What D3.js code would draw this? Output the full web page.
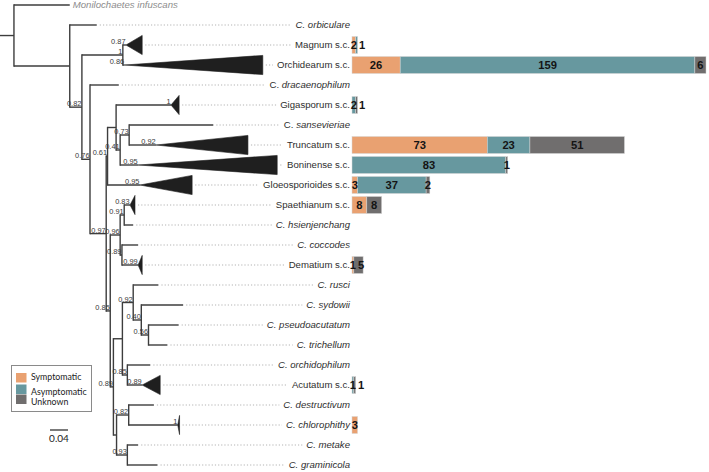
<!DOCTYPE html>
<html><head><meta charset="utf-8">
<script src="https://cdn.jsdelivr.net/npm/d3@7"></script>
<style>body{margin:0;background:#fff}svg{display:block}</style>
</head><body>
<svg id="c" width="709" height="472"></svg>
<script>
// ---------------- DATA ----------------
// Tree topology with branch lengths (substitutions/site) and support values
const newick = "(Monilochaetes:0.124,(orbiculare:0.060,((Magnum:0.007,Orchidearum:0.004)1:0.091,(dracaenophilum:0.064,(((Gigasporum:0.122,((sansevieriae:0.187,Truncatum:0.060)0.73:0.020,Boninense:0.040)0.41:0.009):0.019,Gloeosporioides:0.072)0.61:0.003,(((Spaethianum:0.013,hsienjenchang:0.020)0.91:0.009,(coccodes:0.036,Dematium:0.036)0.89:0.004)0.96:0.022,(((rusci:0.056,(sydowii:0.093,(pseudoacutatum:0.067,trichellum:0.042)0.56:0.016)0.40:0.018)0.92:0.024,(orchidophilum:0.051,Acutatum:0.033)0.85:0.011):0.020,((destructivum:0.056,chlorophithy:0.109)0.82:0.027,(metake:0.024,graminicola:0.067)0.93:0.024):0.007)0.89:0.007)0.85:0.009)0.97:0.036)0.76:0.018)0.82:0.027):0.124):0.031;";

const tipIds = ["Monilochaetes","orbiculare","Magnum","Orchidearum","dracaenophilum","Gigasporum","sansevieriae","Truncatum","Boninense","Gloeosporioides","Spaethianum","hsienjenchang","coccodes","Dematium","rusci","sydowii","pseudoacutatum","trichellum","orchidophilum","Acutatum","destructivum","chlorophithy","metake","graminicola"];
const tipLabels = ["Monilochaetes infuscans","C. orbiculare","Magnum s.c.","Orchidearum s.c.","C. dracaenophilum","Gigasporum s.c.","C. sansevieriae","Truncatum s.c.","Boninense s.c.","Gloeosporioides s.c.","Spaethianum s.c.","C. hsienjenchang","C. coccodes","Dematium s.c.","C. rusci","C. sydowii","C. pseudoacutatum","C. trichellum","C. orchidophilum","Acutatum s.c.","C. destructivum","C. chlorophithy","C. metake","C. graminicola"];
const uprightGenus = ["C. dracaenophilum","C. sansevieriae"];

// Collapsed clades: depth of the collapsed triangle and clade support
const collapsedClades = ["Magnum","Orchidearum","Gigasporum","Truncatum","Boninense","Gloeosporioides","Spaethianum","Dematium","Acutatum","chlorophithy"];
const cladeDepth = [0.036,0.307,0.018,0.204,0.309,0.116,0.011,0.009,0.040,0.004];
const cladeSupport = ["0.87","0.86","1","0.92","0.95","0.95","0.83","0.99","0.89","1"];

// Isolate counts per clade
const barCategories = ["Magnum","Orchidearum","Gigasporum","Truncatum","Boninense","Gloeosporioides","Spaethianum","Dematium","Acutatum","chlorophithy"];
const symptomatic  = [2, 26, 0, 73, 0, 3, 8, 1, 0, 3];
const asymptomatic = [1,159, 2, 23,83,37, 0, 0, 1, 0];
const unknown      = [0,  6, 1, 51, 1, 2, 8, 5, 1, 0];
const seriesNames  = ["Symptomatic","Asymptomatic","Unknown"];
const seriesColors = ["#E9A171","#67989F","#706E6E"];
const scaleBarValue = 0.04;

// ---------------- PARSE ----------------
function parseNewick(s){
  let i=0;
  function node(){
    const n={children:[]};
    if(s[i]==='('){ i++; n.children.push(node()); while(s[i]===','){ i++; n.children.push(node()); } i++; }
    let name=''; while(i<s.length && !',():;'.includes(s[i])) name+=s[i++];
    n.name=name;
    if(s[i]===':'){ i++; let l=''; while(i<s.length && !',();'.includes(s[i])) l+=s[i++]; n.length=+l; }
    return n;
  }
  return node();
}

const svg = d3.select("#c");
const xTree = d3.scaleLinear().domain([0,1]).range([0,450]);
const root = d3.hierarchy(parseNewick(newick), d => d.children.length ? d.children : null);
root.eachBefore(d => { d.dist = (d.parent ? d.parent.dist : 0) + (d.data.length||0); d.px = xTree(d.dist); });
const yRow = d3.scalePoint().domain(tipIds).range([5,465]);
root.eachAfter(d => { d.py = d.children ? (d.children[0].py + d.children[d.children.length-1].py)/2 : yRow(d.data.name); });

const gDot = svg.append("g").attr("stroke","#b3b3b3").attr("stroke-width",1.2).attr("stroke-dasharray","1.2,2");
const gTree = svg.append("g").attr("stroke","#3d3d3d").attr("stroke-width",1.4).attr("fill","none");
// root stub
gTree.append("line").attr("x1",xTree(0)).attr("x2",root.px).attr("y1",root.py).attr("y2",root.py);
root.descendants().forEach(d=>{
  if(d.parent){
    gTree.append("line").attr("x1",d.parent.px).attr("x2",d.px).attr("y1",d.py).attr("y2",d.py);
  }
  if(d.children){
    gTree.append("line").attr("x1",d.px).attr("x2",d.px)
      .attr("y1",d.children[0].py-0.7).attr("y2",d.children[d.children.length-1].py+0.7);
  }
});

// collapsed triangles
const halfH = 9.6;
const tipEnd = {};
root.leaves().forEach(d=>{
  const k = collapsedClades.indexOf(d.data.name);
  let end = d.px;
  if(k>=0){
    end = xTree(d.dist + cladeDepth[k]);
    svg.append("path").attr("d",`M${d.px},${d.py}L${end},${d.py-halfH}L${end},${d.py+halfH}Z`)
      .attr("fill","#1f1f1f").attr("stroke","#1f1f1f").attr("stroke-width",0.6);
  }
  tipEnd[d.data.name]=end;
});

// support labels
const gSup = svg.append("g").attr("font-family","Liberation Sans, Arial, sans-serif").attr("font-size",7.4).attr("fill","#3a3a3a").attr("text-anchor","end");
root.descendants().forEach(d=>{
  let lab = null;
  if(d.children && d.data.name!=='') lab = d.data.name;
  if(!d.children){ const k = collapsedClades.indexOf(d.data.name); if(k>=0) lab = cladeSupport[k]; }
  if(lab) gSup.append("text").attr("x",d.px-0.5).attr("y",d.py-1).text(lab);
});

// tip labels + dotted leaders
const labelRight = 350;
const gLab = svg.append("g").attr("font-family","Liberation Sans, Arial, sans-serif").attr("font-size",9.6);
tipIds.forEach((id,i)=>{
  const lbl = tipLabels[i];
  const y = yRow(id);
  if(i===0){
    gLab.append("text").attr("x",tipEnd[id]+3).attr("y",y).attr("dy","0.35em")
      .attr("fill","#8c8c8c").attr("font-style","italic").text(lbl);
    return;
  }
  const t = gLab.append("text").attr("x",labelRight).attr("y",y).attr("dy","0.35em")
    .attr("text-anchor","end").attr("fill","#2e2e2e");
  if(lbl.startsWith("C. ")){
    if(uprightGenus.includes(lbl)){
      t.append("tspan").text("C. ");
      t.append("tspan").attr("font-style","italic").text(lbl.slice(3));
    } else t.attr("font-style","italic").text(lbl);
  } else t.text(lbl);
  const w = t.node().getComputedTextLength();
  gDot.append("line").attr("x1",tipEnd[id]+3).attr("x2",labelRight-w-4).attr("y1",y).attr("y2",y);
});

// ---------------- BARS ----------------
const barData = barCategories.map((c,i)=>({cat:c, Symptomatic:symptomatic[i], Asymptomatic:asymptomatic[i], Unknown:unknown[i]}));
const stack = d3.stack().keys(seriesNames)(barData);
const xBar = d3.scaleLinear().domain([0,191]).range([352,706]);
const color = d3.scaleOrdinal().domain(seriesNames).range(seriesColors);
const barH = 17;
const gBar = svg.append("g");
stack.forEach(s=>{
  gBar.selectAll(null).data(s).enter().append("rect")
    .attr("x",d=>xBar(d[0])).attr("width",d=>xBar(d[1])-xBar(d[0]))
    .attr("y",d=>yRow(d.data.cat)-barH/2).attr("height",barH)
    .attr("fill",color(s.key)).attr("stroke","#d6d6d6").attr("stroke-width",0.5);
});
// value labels with simple overlap avoidance
const gVal = svg.append("g").attr("font-family","Liberation Sans, Arial, sans-serif").attr("font-weight","bold").attr("font-size",11.2).attr("fill","#141414").attr("text-anchor","middle");
barData.forEach((row,r)=>{
  let prevRight = -Infinity;
  stack.forEach(s=>{
    const seg = s[r];
    const v = seg[1]-seg[0];
    if(v<=0) return;
    const txt = String(v);
    const hw = txt.length*6.3/2;
    let cx = (xBar(seg[0])+xBar(seg[1]))/2;
    if(cx-hw < prevRight+2) cx = prevRight+2+hw;
    gVal.append("text").attr("x",cx).attr("y",yRow(row.cat)).attr("dy","0.36em").text(txt);
    prevRight = cx+hw;
  });
});

// ---------------- LEGEND ----------------
const lg = svg.append("g");
lg.append("rect").attr("x",11.5).attr("y",365.5).attr("width",80).attr("height",46).attr("fill","#fff").attr("stroke","#8a8a8a").attr("stroke-width",1);
const sqY = [373,384.5,394.5], txY=[377,391.5,402];
seriesNames.forEach((n,i)=>{
  lg.append("rect").attr("x",16).attr("y",sqY[i]).attr("width",10.5).attr("height",9.5).attr("fill",seriesColors[i]);
  lg.append("text").attr("x",31).attr("y",txY[i]).attr("dy","0.35em").attr("font-family","Lato, sans-serif").attr("font-size",8.8).attr("fill","#222").text(n);
});

// ---------------- SCALE BAR ----------------
const sbX = 50;
svg.append("line").attr("x1",sbX).attr("x2",sbX + xTree(scaleBarValue)-xTree(0)).attr("y1",430).attr("y2",430).attr("stroke","#333").attr("stroke-width",1.3);
svg.append("text").attr("x",sbX + (xTree(scaleBarValue)-xTree(0))/2).attr("y",442).attr("text-anchor","middle")
  .attr("font-family","Lato, sans-serif").attr("font-size",10).attr("fill","#222").text(String(scaleBarValue));
</script>
</body></html>
